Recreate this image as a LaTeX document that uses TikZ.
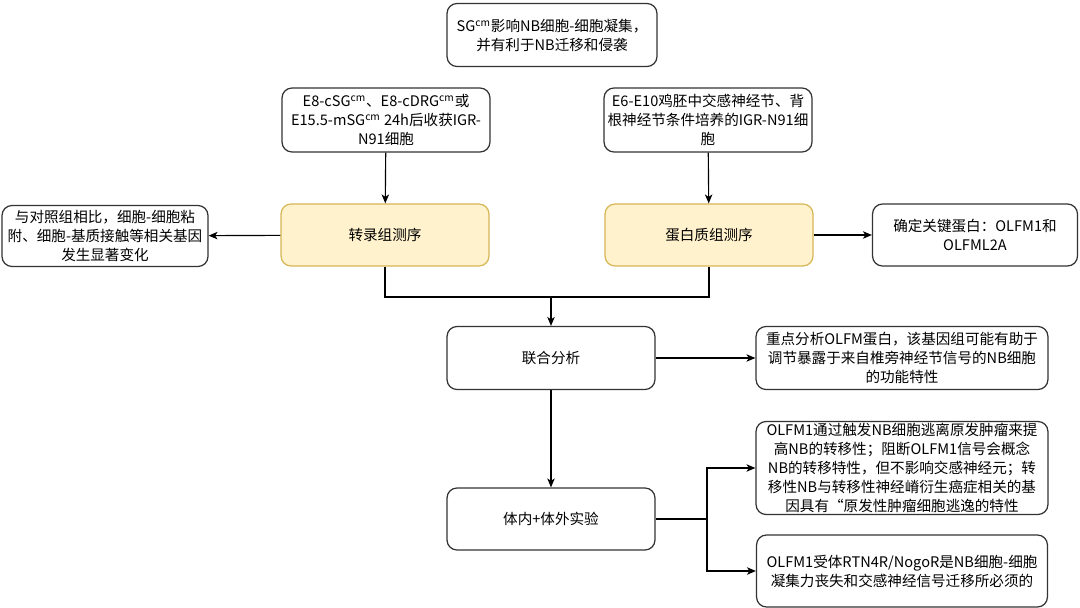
\documentclass[tikz,border=0pt]{standalone}
\usepackage{fontspec}
\setmainfont{Noto Sans CJK SC}
\usetikzlibrary{arrows.meta}

\definecolor{seqfill}{HTML}{FFF2CC}
\definecolor{seqdraw}{HTML}{D6B656}
\definecolor{linegray}{HTML}{333333}

\begin{document}
\begin{tikzpicture}[x=0.02cm, y=-0.02cm]
\useasboundingbox (0, 0) rectangle (1080, 608);
\begin{scope}[
    every node/.style={rectangle,rounded corners=0.2cm,draw=linegray,line width=0.7pt,
        fill=white,align=center,font=\fontsize{8.3}{10.8}\selectfont,inner sep=1pt}]
    \node (top) at (552, 35) [minimum width=4.2cm,minimum height=1.26cm]
        {SG\textsuperscript{cm}影响NB细胞-细胞凝集，\\并有利于NB迁移和侵袭};

    % % sample sources
    \node (cells) at (386, 120) [minimum width=4.16cm,minimum height=1.28cm]
        {E8-cSG\textsuperscript{cm}、E8-cDRG\textsuperscript{cm}或\\E15.5-mSG\textsuperscript{cm} 24h后收获IGR-\\N91细胞};
    \node (ganglia) at (708, 120) [minimum width=4.16cm,minimum height=1.28cm]
        {E6-E10鸡胚中交感神经节、背\\根神经节条件培养的IGR-N91细\\胞};

    % % sequencing
    \node (rna) at (385, 235) [minimum width=4.16cm,minimum height=1.24cm,
        fill=seqfill,draw=seqdraw] {转录组测序};
    \node (prot) at (709, 235) [minimum width=4.16cm,minimum height=1.24cm,
        fill=seqfill,draw=seqdraw] {蛋白质组测序};
    \node (genes) at (105, 236) [minimum width=4.12cm,minimum height=1.22cm]
        {与对照组相比，细胞-细胞粘\\附、细胞-基质接触等相关基因\\发生显著变化};
    \node (keyprot) at (975, 235) [minimum width=4.1cm,minimum height=1.24cm]
        {确定关键蛋白：OLFM1和\\OLFML2A};

    % % analysis
    \node (joint) at (551, 358) [minimum width=4.16cm,minimum height=1.26cm] {联合分析};
    \node (olfm) at (902, 358) [minimum width=5.84cm,minimum height=1.26cm]
        {重点分析OLFM蛋白，该基因组可能有助于\\调节暴露于来自椎旁神经节信号的NB细胞\\的功能特性};

    % % experiments
    \node (exper) at (551, 519) [minimum width=4.16cm,minimum height=1.24cm] {体内+体外实验};
    \node (escape) at (902, 468) [minimum width=5.84cm,minimum height=1.86cm]
        {OLFM1通过触发NB细胞逃离原发肿瘤来提\\高NB的转移性；阻断OLFM1信号会概念\\NB的转移特性，但不影响交感神经元；转\\移性NB与转移性神经嵴衍生癌症相关的基\\因具有“原发性肿瘤细胞逃逸的特性};
    \node (receptor) at (902, 571) [minimum width=5.82cm,minimum height=1.44cm]
        {OLFM1受体RTN4R/NogoR是NB细胞-细胞\\凝集力丧失和交感神经信号迁移所必须的};
\end{scope}

\coordinate (merge) at (551, 297);
\coordinate (split) at (707, 519);

\begin{scope}[>={Stealth[black,length=1.8mm,width=1.5mm,inset=0.5mm]},
              every path/.style={draw=black,line width=0.65pt}]
    \path [->] (cells) -- (rna);
    \path [->] (ganglia) -- (prot);
    \path [->] (rna) -- (genes);
    \path [->] (prot) -- (keyprot);

    \path (rna.south) |- (merge) -| (prot.south);
    \path [->] (merge) -- (joint);
    \path [->] (joint) -- (olfm);
    \path [->] (joint) -- (exper);

    \path (exper) -- (split);
    \path [->] (split) |- (escape);
    \path [->] (split) |- (receptor);
\end{scope}
\end{tikzpicture}
\end{document}
